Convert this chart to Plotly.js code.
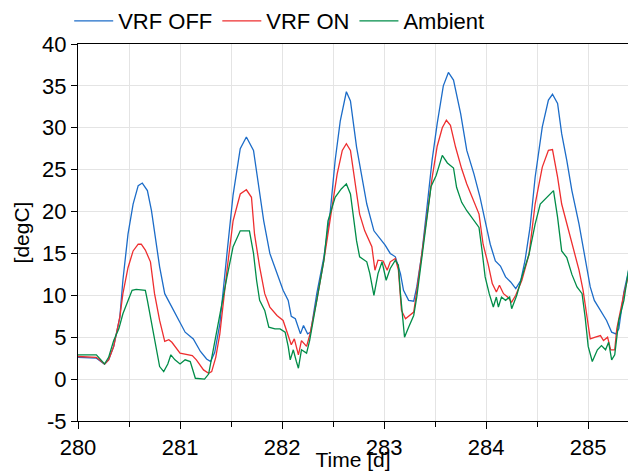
<!DOCTYPE html>
<html>
<head>
<meta charset="utf-8">
<script src="https://cdn.plot.ly/plotly-3.0.1.min.js"></script>
<style>html,body{margin:0;padding:0;background:#fff;}#chart{width:628px;height:471px;}</style>
</head>
<body>
<div id="chart"></div>
<script>
// Time [d] and temperatures [degC]
const tOff = [280.00,280.18,280.26,280.30,280.35,280.41,280.44,280.49,280.54,280.59,280.63,280.68,280.72,280.76,280.80,280.85,280.90,280.97,281.05,281.13,281.20,281.26,281.30,281.34,281.39,281.46,281.52,281.59,281.65,281.72,281.77,281.82,281.88,281.95,282.01,282.06,282.09,282.13,282.18,282.21,282.25,282.28,282.34,282.41,282.47,282.52,282.57,282.63,282.67,282.73,282.78,282.83,282.90,282.96,283.01,283.06,283.11,283.16,283.19,283.24,283.29,283.32,283.37,283.42,283.47,283.52,283.58,283.63,283.68,283.75,283.81,283.88,283.94,283.99,284.04,284.09,284.14,284.19,284.24,284.29,284.34,284.38,284.43,284.48,284.55,284.61,284.65,284.70,284.74,284.79,284.84,284.91,284.97,285.02,285.06,285.12,285.18,285.23,285.27,285.30,285.35,285.40,285.45];
const vrfOff = [2.6,2.5,1.8,2.3,3.9,7.4,11.8,17.3,20.9,23.1,23.4,22.5,20.1,16.5,13.4,10.2,9.0,7.4,5.6,4.8,3.3,2.4,2.1,3.2,6.6,15.0,22.0,27.5,28.9,27.3,22.9,18.9,15.0,12.6,10.6,9.4,7.5,7.2,5.4,6.4,5.4,5.6,10.2,14.6,19.7,26.1,30.8,34.3,33.2,27.7,24.1,20.9,17.7,16.7,16.0,15.0,14.6,12.6,10.6,9.4,9.3,11.0,15.0,20.5,26.1,30.5,35.0,36.6,35.7,31.7,27.3,24.5,21.7,18.9,16.1,14.1,13.5,12.2,11.6,10.8,11.8,14.1,18.1,24.1,30.1,33.3,34.0,32.9,29.3,26.1,22.5,18.5,14.6,11.0,9.4,8.2,7.0,5.6,5.4,6.0,10.4,13.2,14.5];

const tOn = [280.00,280.18,280.26,280.30,280.35,280.41,280.44,280.49,280.54,280.59,280.62,280.66,280.71,280.75,280.80,280.85,280.89,280.92,281.00,281.07,281.12,281.16,281.23,281.28,281.31,281.35,281.39,281.46,281.52,281.59,281.65,281.70,281.73,281.78,281.83,281.88,281.95,282.01,282.06,282.09,282.12,282.16,282.19,282.24,282.27,282.34,282.41,282.47,282.54,282.59,282.63,282.67,282.72,282.76,282.81,282.88,282.91,282.94,282.99,283.03,283.06,283.11,283.14,283.17,283.21,283.29,283.32,283.37,283.42,283.47,283.52,283.57,283.61,283.65,283.70,283.76,283.81,283.88,283.93,283.97,284.02,284.06,284.10,284.13,284.17,284.21,284.25,284.29,284.35,284.42,284.48,284.55,284.61,284.65,284.70,284.74,284.79,284.86,284.91,284.95,284.99,285.02,285.07,285.12,285.15,285.19,285.22,285.26,285.28,285.35,285.40,285.45];
const vrfOn = [2.7,2.6,1.8,2.3,3.9,7.4,10.2,13.3,15.3,16.1,16.1,15.4,14.0,10.2,7.0,4.5,4.7,4.4,3.1,2.9,2.8,2.3,1.1,0.7,0.9,2.6,5.4,13.0,18.9,22.1,22.6,21.7,17.3,13.4,10.2,8.6,7.6,7.0,5.0,4.1,4.8,2.9,4.6,3.9,5.2,9.4,14.2,18.9,24.5,27.3,28.1,27.3,22.9,19.7,17.7,15.8,13.0,14.2,14.1,13.0,14.0,14.4,13.0,8.2,7.2,8.0,10.5,15.0,19.5,24.0,27.8,30.0,30.9,30.3,27.7,25.1,23.3,21.3,19.7,16.1,13.7,11.4,10.4,11.2,10.2,9.8,9.2,10.0,11.8,14.9,20.9,25.3,27.3,27.4,24.1,20.9,18.5,15.5,13.0,10.6,7.5,4.8,5.0,5.2,4.6,5.0,3.5,3.5,6.0,10.2,12.6,14.0];

const tAmb = [280.00,280.18,280.26,280.30,280.35,280.40,280.44,280.49,280.53,280.57,280.66,280.68,280.72,280.76,280.80,280.84,280.88,280.91,280.95,281.00,281.05,281.10,281.15,281.24,281.28,281.33,281.39,281.46,281.52,281.59,281.68,281.72,281.75,281.78,281.83,281.87,281.93,281.98,282.03,282.06,282.08,282.11,282.14,282.16,282.19,282.24,282.27,282.34,282.41,282.45,282.52,282.58,282.63,282.67,282.70,282.73,282.76,282.83,282.86,282.90,282.94,282.98,283.02,283.06,283.11,283.14,283.16,283.20,283.24,283.29,283.32,283.37,283.42,283.46,283.51,283.57,283.62,283.68,283.71,283.76,283.81,283.88,283.93,283.96,283.99,284.03,284.07,284.10,284.12,284.15,284.19,284.23,284.25,284.30,284.35,284.42,284.48,284.53,284.60,284.66,284.70,284.74,284.79,284.84,284.89,284.94,284.97,285.00,285.04,285.09,285.13,285.17,285.20,285.23,285.26,285.30,285.35,285.40,285.45];
const ambient = [2.9,2.9,1.8,2.6,4.6,6.0,7.8,9.4,10.6,10.7,10.6,9.4,6.6,3.9,1.5,0.9,1.8,2.9,2.3,1.8,2.3,2.1,0.1,0.0,0.6,3.8,7.8,12.2,15.8,17.7,17.7,15.0,11.8,9.4,8.2,6.2,6.0,6.0,5.6,3.9,2.3,3.5,2.1,1.3,3.5,3.1,4.6,9.4,14.2,18.9,21.7,22.7,23.3,22.1,19.3,16.5,14.6,14.0,12.6,10.0,12.6,14.0,11.8,13.2,14.2,13.6,10.2,5.0,6.2,7.6,9.8,14.5,19.0,23.0,24.3,26.7,25.8,25.2,22.9,21.1,20.1,18.9,18.1,15.3,12.2,10.2,8.6,9.8,8.6,9.8,9.4,9.8,8.4,10.0,12.2,14.9,18.5,20.9,21.7,22.5,19.3,15.3,14.5,12.5,11.0,10.2,7.4,3.9,2.1,3.5,4.0,3.5,4.4,2.3,2.9,7.0,9.4,13.4,14.5];

const seriesNames = ['VRF OFF', 'VRF ON', 'Ambient'];
const seriesColors = ['rgb(28,108,200)', 'rgb(238,46,47)', 'rgb(0,140,72)'];

const xTickVals = [280, 281, 282, 283, 284, 285];
const xTickLabels = ['280', '281', '282', '283', '284', '285'];
const yTickVals = [-5, 0, 5, 10, 15, 20, 25, 30, 35, 40];
const yTickLabels = ['-5', '0', '5', '10', '15', '20', '25', '30', '35', '40'];

const font = 'Arial, "Liberation Sans", sans-serif';
const fs = 22;
const xs = [tOff, tOn, tAmb];
const ys = [vrfOff, vrfOn, ambient];
const traces = seriesNames.map((n, i) => ({
  type: 'scatter', mode: 'lines', name: n,
  x: xs[i], y: ys[i],
  line: {color: seriesColors[i], width: 1.3}
}));

const layout = {
  width: 628, height: 471,
  margin: {l: 78, r: 0, t: 43, b: 50, pad: 0},
  paper_bgcolor: '#fff', plot_bgcolor: '#fff',
  font: {family: font, size: fs, color: '#000'},
  showlegend: true,
  legend: {orientation: 'h', x: -0.016, xanchor: 'left', y: 1.06, yanchor: 'middle',
           itemwidth: 39, tracegroupgap: 0,
           font: {family: font, size: fs, color: '#000'}, bgcolor: 'rgba(0,0,0,0)'},
  xaxis: {
    range: [280, 285.39], tickmode: 'array', tickvals: xTickVals, ticktext: xTickLabels,
    showline: true, linecolor: '#000', linewidth: 1, mirror: true,
    ticks: 'outside', ticklen: 7, tickcolor: '#000',
    showgrid: true, gridcolor: '#e4e4e4', gridwidth: 1,
    minor: {dtick: 0.5, tick0: 280, ticks: 'outside', ticklen: 5, tickcolor: '#000', showgrid: true, gridcolor: '#e4e4e4'},
    zeroline: false,
    tickfont: {family: font, size: fs, color: '#000'},
    title: {text: 'Time [d]', standoff: 2, font: {family: font, size: 21, color: '#000'}}
  },
  yaxis: {
    range: [-5, 40], tickmode: 'array', tickvals: yTickVals, ticktext: yTickLabels,
    showline: true, linecolor: '#000', linewidth: 1,
    ticks: 'outside', ticklen: 6, tickcolor: '#000',
    showgrid: true, gridcolor: '#e4e4e4', gridwidth: 1,
    zeroline: false,
    tickfont: {family: font, size: fs, color: '#000'},
    title: {text: '[degC]', standoff: 6, font: {family: font, size: 21, color: '#000'}}
  }
};

Plotly.newPlot('chart', traces, layout, {displayModeBar: false, staticPlot: true});
</script>
</body>
</html>
